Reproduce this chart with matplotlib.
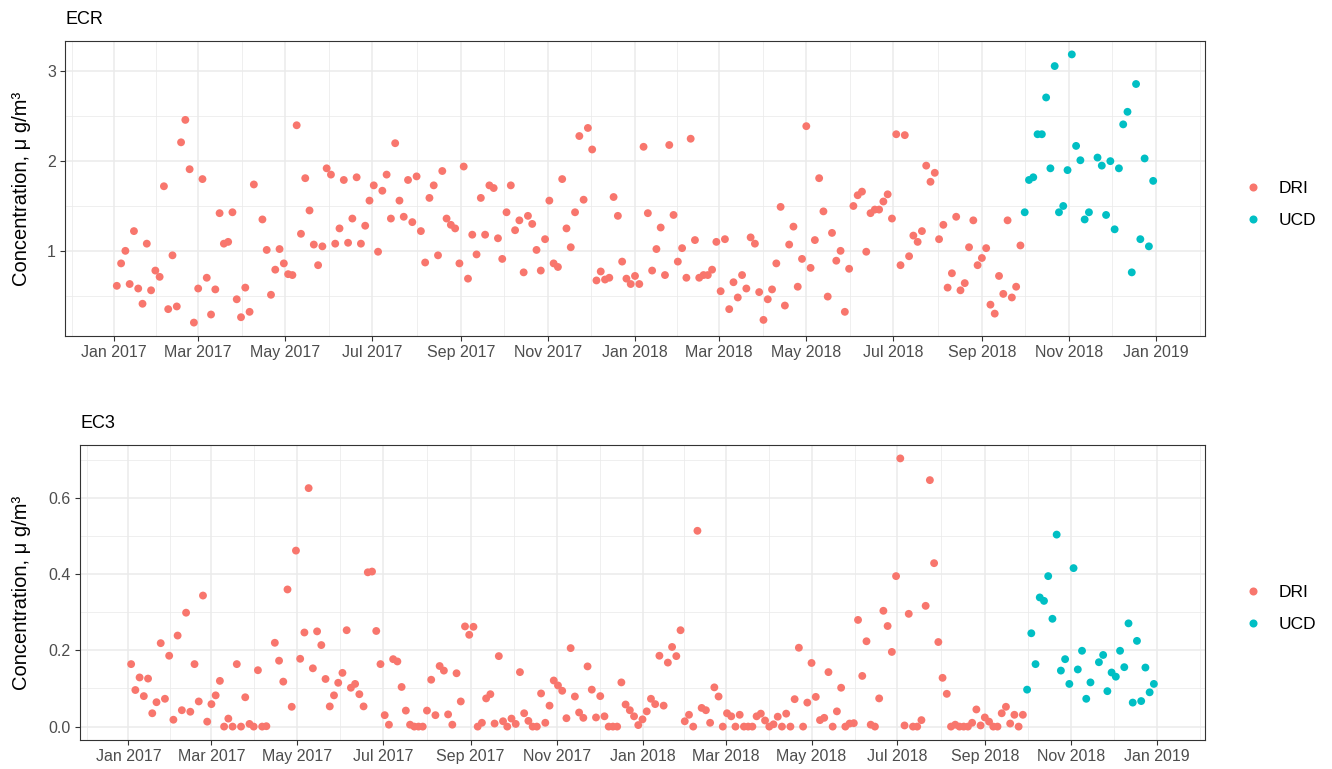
import numpy as np
import pandas as pd
import matplotlib
matplotlib.use('Agg')
import matplotlib.pyplot as plt
import matplotlib.dates as mdates
from matplotlib.lines import Line2D

plt.rcParams['font.family'] = ['Liberation Sans', 'DejaVu Sans']

# 1-in-3 day sampling schedule, DRI first, then UCD
n_dri = 212
n_ucd = 31
dates = pd.date_range('2017-01-03', periods=n_dri + n_ucd, freq='3D')
dri_dates = dates[:n_dri]
ucd_dates = dates[n_dri:]

nan = np.nan

# ECR, DRI
ecr_dri = [0.61, 0.86, 1.00, 0.63, 1.22, 0.58, 0.41, 1.08, 0.56, 0.78, 0.71, 1.72, 0.35, 0.95, 0.38, 2.21,
           2.46, 1.91, 0.20, 0.58, 1.80, 0.70, 0.29, 0.57, 1.42, 1.08, 1.10, 1.43, 0.46, 0.26, 0.59, 0.32,
           1.74, nan,
           1.35, 1.01, 0.51, 0.79, 1.02, 0.86, 0.74, 0.73, 2.40, 1.19, 1.81, 1.45, 1.07, 0.84, 1.05, 1.92,
           1.85, 1.08, 1.25, 1.79, 1.09, 1.36, 1.82, 1.08, 1.28, 1.56, 1.73, 0.99, 1.67, 1.85, 1.36, 2.20,
           1.56, 1.38, 1.79, 1.32, 1.83, 1.22, 0.87, 1.59, 1.73, 0.95, 1.89, 1.36, 1.29,
           1.25, 0.86, 1.94, 0.69, 1.18, 0.96, 1.59, 1.18, 1.73, 1.70, 1.14, 0.91, 1.43, 1.73, 1.23, 1.34,
           0.76, 1.39, 1.30, 1.01, 0.78, 1.13, 1.56, 0.86, 0.82, 1.80, 1.25, 1.04, 1.43, 2.28, 1.57, 2.37,
           2.13, 0.67, 0.77, 0.68, 0.70, 1.60, 1.39, 0.88, 0.69, 0.63, 0.72, 0.63,
           2.16, 1.42, 0.78, 1.02, 1.26, 0.73, 2.18, 1.40, 0.88, 1.03, 0.70, 2.25, 1.12, 0.70, 0.73, 0.73,
           0.79, 1.10, 0.55, 1.13, 0.35, 0.65, 0.48, 0.73, 0.58, 1.15, 1.08, 0.54, 0.23, 0.46, 0.57, 0.86,
           1.49, 0.39, 1.07, 1.27, 0.60, 0.91, 2.39, 0.81, 1.12, 1.81, 1.44, 0.49,
           1.20, 0.89, 1.00, 0.32, 0.80, 1.50, 1.62, 1.66, 0.99, 1.42, 1.46, 1.46, 1.55, 1.63, 1.36, 2.30,
           0.84, 2.29, 0.94, 1.17, 1.10, 1.22, 1.95, 1.77, 1.87, 1.13, 1.29, 0.59, 0.75, 1.38, 0.56, 0.64,
           1.04, 1.34, 0.84, 0.92, 1.03, 0.40, 0.30, 0.72, 0.52, 1.34, 0.48, 0.60, 1.06]

# ECR, UCD
ecr_ucd = [1.43, 1.79, 1.82, 2.30, 2.30, 2.71, 1.92, 3.06, 1.43, 1.50, 1.90, 3.19, 2.17, 2.01, 1.35, 1.43,
           nan, 2.04, 1.95, 1.40, 2.00, 1.24, 1.92, 2.41, 2.55, 0.76, 2.86, 1.13, 2.03, 1.05, 1.78]

# EC3, DRI
ec3_dri = [0.164, 0.096, 0.129, 0.080, 0.126, 0.035, 0.064, 0.219, 0.073, 0.186, 0.018, 0.239, 0.043, 0.299,
           0.039, 0.164, 0.066, 0.344, 0.013, 0.059, 0.082, 0.120, 0.0, 0.021, 0.0, 0.164, 0.0, 0.077,
           0.007, 0.0, 0.148, 0.0, 0.001, nan,
           0.220, 0.173, 0.118, 0.360, 0.052, 0.462, 0.178, 0.247, 0.626, 0.153, 0.250, 0.214, 0.125, 0.053,
           0.082, 0.115, 0.141, 0.253, 0.102, 0.112, 0.085, 0.053, 0.405, 0.407, 0.251, 0.164, 0.030, 0.005,
           0.177, 0.171, 0.104, 0.042, 0.005, 0.0, 0.0, 0.0, 0.042, 0.123, 0.030, 0.159, 0.147, 0.032,
           0.005, 0.140,
           0.066, 0.263, 0.241, 0.262, 0.0, 0.010, 0.074, 0.085, 0.008, 0.185, 0.014, 0.0, 0.021, 0.007,
           0.143, 0.035, 0.015, 0.0, 0.0, 0.087, 0.010, 0.055, 0.121, 0.108, 0.094, 0.022, 0.206, 0.079,
           0.037, 0.023, 0.158, 0.097, 0.024, 0.080, 0.027, 0.0, 0.0, 0.0, 0.116, 0.058, 0.043, 0.027,
           0.004,
           0.019, 0.040, 0.073, 0.059, 0.186, 0.055, 0.168, 0.209, 0.185, 0.253, 0.014, 0.031, 0.0, 0.514,
           0.049, 0.043, 0.010, 0.103, 0.079, 0.0, 0.035, 0.027, 0.0, 0.031, 0.0, 0.0, 0.0, 0.027,
           0.034, 0.016, 0.0, 0.006, 0.026, 0.0, 0.034, 0.0, 0.072, 0.207, 0.0, 0.063, 0.167, 0.078,
           0.017, 0.023,
           0.143, 0.0, 0.040, 0.102, 0.0, 0.008, 0.009, 0.280, 0.133, 0.224, 0.005, 0.0, 0.074, 0.304,
           0.264, 0.196, 0.395, 0.704, 0.003, 0.296, 0.0, 0.0, 0.017, 0.317, 0.647, 0.429, 0.222, 0.128,
           0.086, 0.0, 0.005, 0.0, 0.0, 0.0, 0.010, 0.045, 0.003, 0.024, 0.013, 0.0, 0.0, 0.035,
           0.052, 0.008, 0.031, 0.0, 0.031]

# EC3, UCD
ec3_ucd = [0.097, 0.245, 0.164, 0.339, 0.330, 0.395, 0.283, 0.504, 0.147, 0.177, 0.112, 0.416, 0.150, 0.199,
           0.073, 0.116, nan, 0.169, 0.188, 0.093, 0.142, 0.131, 0.199, 0.156, 0.271, 0.063, 0.225, 0.067,
           0.155, 0.090, 0.112]

networks = ['DRI', 'UCD']
colors = {'DRI': '#F8766D', 'UCD': '#00BFC4'}
panels = [('ECR', ecr_dri, ecr_ucd, [1, 2, 3], [0.5, 1.5, 2.5, 3.5], '%g'),
          ('EC3', ec3_dri, ec3_ucd, [0.0, 0.2, 0.4, 0.6], [0.1, 0.3, 0.5, 0.7], '%.1f')]

W, H = 1332, 769
fig = plt.figure(figsize=(W / 100, H / 100), dpi=100)
boxes = [(65, 41, 1205, 336), (80, 445, 1205, 740)]

major = mdates.date2num(pd.date_range('2017-01-01', '2019-01-01', freq='2MS'))
minor = (major[:-1] + major[1:]) / 2
minor = np.concatenate([[major[0] - (major[1] - major[0]) / 2], minor,
                        [major[-1] + (major[-1] - major[-2]) / 2]])

for (title, dri, ucd, yt, ytm, fmt), (l, t, r, b) in zip(panels, boxes):
    ax = fig.add_axes([l / W, 1 - b / H, (r - l) / W, (b - t) / H])
    ax.scatter(dri_dates, dri, s=32, color=colors['DRI'], edgecolors='none', zorder=3)
    ax.scatter(ucd_dates, ucd, s=32, color=colors['UCD'], edgecolors='none', zorder=3)
    ax.margins(x=0.05, y=0.05)
    xlim = ax.get_xlim()
    ylim = ax.get_ylim()

    ax.set_xticks(major)
    ax.set_xticks(minor, minor=True)
    ax.xaxis.set_major_formatter(mdates.DateFormatter('%b %Y'))
    ax.set_yticks(yt)
    ax.set_yticks(ytm, minor=True)
    ax.yaxis.set_major_formatter(matplotlib.ticker.FormatStrFormatter(fmt))
    ax.set_xlim(xlim)
    ax.set_ylim(ylim)
    ax.set_axisbelow(True)
    ax.grid(which='major', color='#EBEBEB', lw=1.1)
    ax.grid(which='minor', color='#EBEBEB', lw=0.55)
    ax.tick_params(which='major', length=3.5, width=0.8, color='#333333',
                   labelcolor='#4D4D4D', labelsize=11.5, pad=3)
    ax.tick_params(which='minor', length=0)
    for sp in ax.spines.values():
        sp.set_color('#333333')
        sp.set_linewidth(0.8)

    fig.text(l / W + 1 / W, 1 - (t - 21) / H, title, fontsize=13, ha='left', va='center')
    fig.text(22 / W, 1 - (t + b) / 2 / H, 'Concentration, μ g/m³', rotation=90,
             fontsize=14.5, ha='center', va='center')

    handles = [Line2D([], [], ls='none', marker='o', markersize=5.8, markeredgewidth=0,
                      color=colors[n]) for n in networks]
    ax.legend(handles, networks, loc='center left', frameon=False,
              bbox_to_anchor=(1244 / W, 1 - ((t + b) / 2 + 16) / H), bbox_transform=fig.transFigure,
              fontsize=12.5, handlelength=1.0, handletextpad=1.0, labelspacing=1.0,
              borderpad=0, borderaxespad=0)

fig.savefig('out.png', dpi=100)
